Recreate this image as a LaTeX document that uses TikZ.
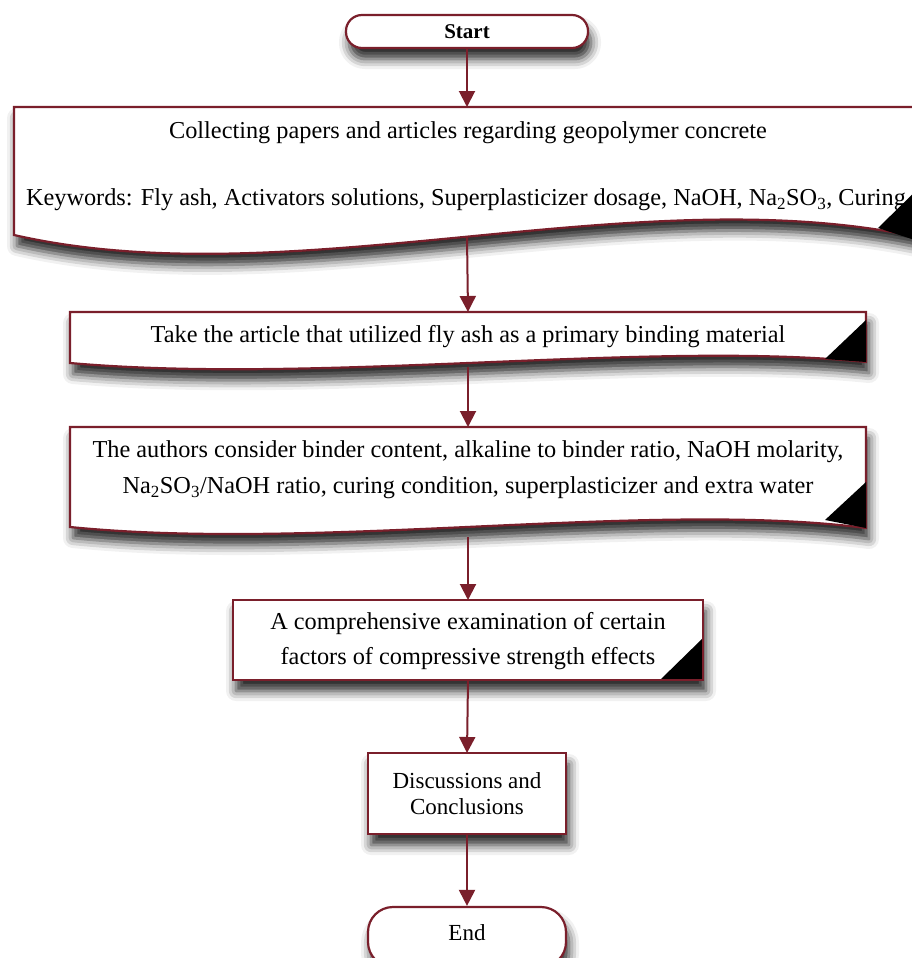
\documentclass[tikz,border=0pt]{standalone}
\usepackage{fontspec}
\setmainfont{Liberation Serif}
\usetikzlibrary{arrows.meta,shadows.blur}
\definecolor{maroon}{HTML}{7A1F2B}
\tikzset{
  boxline/.style={draw=maroon, line width=2.2pt, fill=white,
    blur shadow={shadow xshift=3pt, shadow yshift=-11pt, shadow blur radius=10pt, shadow opacity=85}},
  conn/.style={draw=maroon, line width=2pt, -{Triangle[width=16pt,length=16pt]}},
  txt/.style={font=\fontsize{24.3}{29}\selectfont, inner sep=0pt},
  smalltxt/.style={font=\fontsize{23}{26}\selectfont, inner sep=0pt},
  anchorbox/.style={inner sep=0pt, outer sep=0pt},
}
\begin{document}
\begin{tikzpicture}[x=1pt,y=-1pt]
\useasboundingbox (0,0) rectangle (912,958);

% Start
\node[boxline, rounded corners=16pt, minimum width=242pt, minimum height=33pt, inner sep=0pt, font=\fontsize{21}{24}\selectfont\bfseries] (start) at (467,31.5) {Start};

% Box 1
\path[boxline] (14,107) -- (940,107) -- (940,242) .. controls (650,170) and (300,300) .. (14,235) -- cycle;
\fill[black] (878,228) -- (930,177) -- (930,245) -- cycle;
\node[anchorbox, minimum width=906pt, minimum height=130pt] (b1) at (467,172) {};
\node[txt] (t1a) at (468,133) {Collecting papers and articles regarding geopolymer concrete};
\node[txt] (t1b) at (466,200) {Keywords: Fly ash, Activators solutions, Superplasticizer dosage, NaOH, Na\textsubscript{2}SO\textsubscript{3}, Curing};

% Box 2
\path[boxline] (70,312) -- (866,312) -- (866,362) .. controls (650,340) and (320,385) .. (70,363) -- cycle;
\fill[black] (825,359) -- (866,320) -- (866,362) -- cycle;
\node[anchorbox, minimum width=796pt, minimum height=55pt] (b2) at (468,339.5) {};
\node[txt] (t2) at (468,337) {Take the article that utilized fly ash as a primary binding material};

% Box 3
\path[boxline] (70,427) -- (866,427) -- (866,528) .. controls (650,500) and (320,552) .. (70,527) -- cycle;
\fill[black] (825,520) -- (866,482) -- (866,528) -- cycle;
\node[anchorbox, minimum width=796pt, minimum height=110pt] (b3) at (468,482) {};
\node[txt, align=center] (t3) at (468,470) {The authors consider binder content, alkaline to binder ratio, NaOH molarity,\\[7pt]Na\textsubscript{2}SO\textsubscript{3}/NaOH ratio, curing condition, superplasticizer and extra water};

% Box 4
\node[boxline, anchorbox, minimum width=470pt, minimum height=80pt] (b4) at (468,640) {};
\fill[black] (660,680) -- (703,638) -- (703,680) -- cycle;
\draw[maroon, line width=2.2pt] (233,600) rectangle (703,680);
\node[txt, align=center] (t4) at (468,641.5) {A comprehensive examination of certain\\[6pt]factors of compressive strength effects};

% Box 5
\node[boxline, anchorbox, minimum width=198pt, minimum height=81pt, smalltxt, align=center] (b5) at (467,793.5) {Discussions and\\Conclusions};

% End
\node[boxline, rounded corners=25pt, minimum width=198pt, minimum height=60pt, inner sep=0pt] (end) at (467,937) {};
\node[smalltxt] (tend) at (467,933) {End};

% Connectors
\draw[conn] (start.south) -- (b1.north);
\draw[conn] (b1.south) -- (b2.north);
\draw[conn] (b2.south) -- (b3.north);
\draw[conn] (b3.south) -- (b4.north);
\draw[conn] (b4.south) -- (b5.north);
\draw[conn] (b5.south) -- (end.north);
\end{tikzpicture}
\end{document}
